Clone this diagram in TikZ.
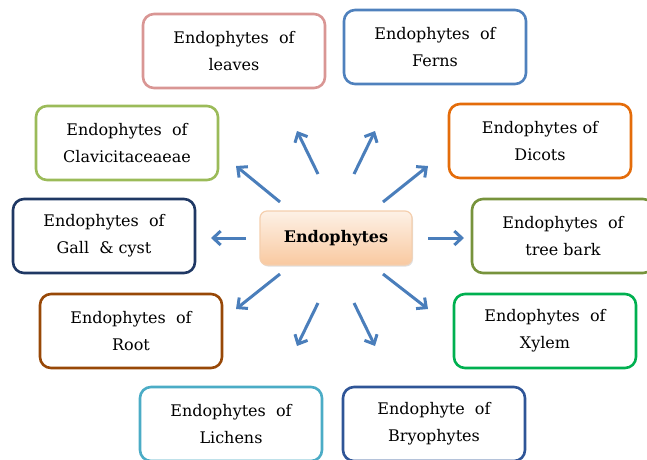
\documentclass[tikz,border=0pt]{standalone}
\usepackage{fontspec}
\setmainfont{DejaVu Serif}
\usetikzlibrary{arrows.meta,shadows}
\definecolor{arrowblue}{HTML}{4A7EBB}
\definecolor{cLeaves}{HTML}{D99694}
\definecolor{cFerns}{HTML}{4F81BD}
\definecolor{cClav}{HTML}{9BBB59}
\definecolor{cDicots}{HTML}{E46C0A}
\definecolor{cGall}{HTML}{1F3864}
\definecolor{cBark}{HTML}{77933C}
\definecolor{cRoot}{HTML}{984807}
\definecolor{cXylem}{HTML}{00B050}
\definecolor{cLichen}{HTML}{4BACC6}
\definecolor{cBryo}{HTML}{2F5597}
\definecolor{cCenterTop}{HTML}{FDF1E6}
\definecolor{cCenterBot}{HTML}{F9C9A0}
\definecolor{cCenterLine}{HTML}{F5CFAE}
\tikzset{
  box/.style={draw, line width=2.6pt, rounded corners=11pt, fill=white,
    minimum width=182pt, minimum height=74pt, align=center,
    font=\fontsize{16}{27}\selectfont, inner sep=2pt},
  centerbox/.style={draw=cCenterLine, line width=1.2pt, rounded corners=7pt,
    top color=cCenterTop, bottom color=cCenterBot,
    minimum width=152pt, minimum height=54pt,
    font=\fontsize{16}{20}\selectfont\bfseries,
    drop shadow={shadow xshift=1pt, shadow yshift=-1.5pt, opacity=0.25}},
  arr/.style={draw=arrowblue, line width=3pt,
    -{Straight Barb[length=7.5pt,width=14pt,line width=3pt]}}
}
\begin{document}
\begin{tikzpicture}[x=1pt,y=-1pt]
\useasboundingbox (0,0) rectangle (647,459);
\node[centerbox] (c) at (336,238) {Endophytes};
\node[box, draw=cLeaves] (leaves) at (234,51) {Endophytes~~of\\leaves};
\node[box, draw=cFerns] (ferns) at (435,47) {Endophytes~~of\\Ferns};
\node[box, draw=cClav] (clav) at (127,143) {Endophytes~~of\\Clavicitaceaeae};
\node[box, draw=cDicots] (dicots) at (540,141) {Endophytes of\\Dicots};
\node[box, draw=cGall] (gall) at (104,236) {Endophytes~~of\\Gall~~\&~cyst};
\node[box, draw=cBark] (bark) at (563,236) {Endophytes~~of\\tree bark};
\node[box, draw=cRoot] (root) at (131,331) {Endophytes~~of\\Root};
\node[box, draw=cXylem] (xylem) at (545,331) {Endophytes~~of\\Xylem};
\node[box, draw=cLichen] (lichens) at (231,424) {Endophytes~~of\\Lichens};
\node[box, draw=cBryo] (bryo) at (434,424) {Endophyte~~of\\Bryophytes};
% arrow end points
\coordinate (tLeaves) at (318,174); \coordinate (hLeaves) at (297,131);
\coordinate (tFerns) at (354,174);  \coordinate (hFerns) at (375,131);
\coordinate (tClav) at (280,202);   \coordinate (hClav) at (236,166);
\coordinate (tDicots) at (383,202); \coordinate (hDicots) at (428,166);
\coordinate (tGall) at (246,238);   \coordinate (hGall) at (211,238);
\coordinate (tBark) at (428,238);   \coordinate (hBark) at (464,238);
\coordinate (tRoot) at (280,274);   \coordinate (hRoot) at (236,309);
\coordinate (tXylem) at (383,274);  \coordinate (hXylem) at (428,309);
\coordinate (tLichen) at (318,303); \coordinate (hLichen) at (297,346);
\coordinate (tBryo) at (354,303);   \coordinate (hBryo) at (375,346);
\draw[arr] (tLeaves) -- (hLeaves);
\draw[arr] (tFerns) -- (hFerns);
\draw[arr] (tClav) -- (hClav);
\draw[arr] (tDicots) -- (hDicots);
\draw[arr] (tGall) -- (hGall);
\draw[arr] (tBark) -- (hBark);
\draw[arr] (tRoot) -- (hRoot);
\draw[arr] (tXylem) -- (hXylem);
\draw[arr] (tLichen) -- (hLichen);
\draw[arr] (tBryo) -- (hBryo);
\end{tikzpicture}
\end{document}
